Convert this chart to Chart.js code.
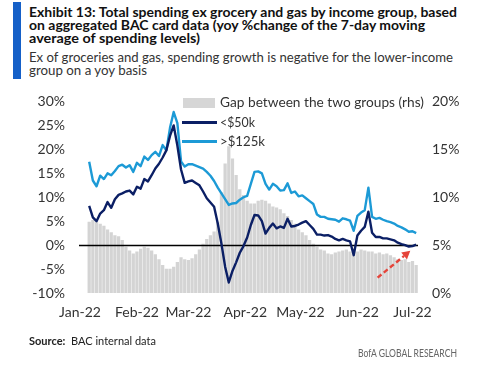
<!DOCTYPE html>
<html>
<head>
<meta charset="utf-8">
<script src="https://cdn.jsdelivr.net/npm/chart.js@4.4.1/dist/chart.umd.min.js"></script>
<style>
  html, body { margin: 0; padding: 0; background: #fff; }
  body { width: 500px; height: 365px; position: relative; overflow: hidden; font-family: Lato, "Open Sans", sans-serif; }
  #c { position: absolute; left: 0; top: 0; }
  .txt { position: absolute; white-space: nowrap; display: inline-block; transform-origin: 0 50%; }
  .title { left: 29px; font-weight: 700; font-size: 13px; line-height: 14px; color: #111; }
  .sub { left: 29px; font-size: 13px; line-height: 14px; color: #333; }
  .leg { left: 220px; font-size: 14px; line-height: 16px; color: #333; }
  .bar { position: absolute; left: 13px; top: 2px; width: 8px; height: 77px; background: #1560C8; }
</style>
</head>
<body>
<div class="bar"></div>
<span class="txt title" style="top:5px" data-w="428">Exhibit 13: Total spending ex grocery and gas by income group, based</span>
<span class="txt title" style="top:18px" data-w="396">on aggregated BAC card data (yoy %change of the 7-day moving</span>
<span class="txt title" style="top:31px" data-w="171">average of spending levels)</span>
<span class="txt sub" style="top:50px" data-w="424">Ex of groceries and gas, spending growth is negative for the lower-income</span>
<span class="txt sub" style="top:63px" data-w="118">group on a yoy basis</span>

<canvas id="c" width="500" height="365"></canvas>

<div style="position:absolute;left:183px;top:98px;width:32px;height:10px;background:#D6D6D6"></div>
<div style="position:absolute;left:182px;top:121px;width:35px;height:3px;background:#0B1F65"></div>
<div style="position:absolute;left:182px;top:140px;width:35px;height:3px;background:#1C9AD6"></div>
<span class="txt leg" style="top:94px" data-w="204">Gap between the two groups (rhs)</span>
<span class="txt leg" style="top:114px" data-w="35">&lt;$50k</span>
<span class="txt leg" style="top:133px" data-w="45">&gt;$125k</span>

<span class="txt" style="left:29px;top:334px;font-size:11px;line-height:13px;color:#222"><b>Source:</b>&nbsp; BAC internal data</span>
<span class="txt" style="left:358px;top:346px;font-size:11px;line-height:13px;color:#666" data-w="99">BofA GLOBAL RESEARCH</span>

<script>
// x positions: day of year 2022 (0 = Jan 1), one observation every 2 days
const startDay = 5;
const stepDays = 2;

// Gap between the two groups (rhs, %)
const gapValues = [
  7.4, 7.6, 7.4, 7.2, 7.0, 6.6, 6.3, 6.0, 5.9, 5.5,
  4.8, 4.4, 4.1, 4.3, 4.6, 4.8, 4.7, 4.4, 4.0, 3.5,
  2.9, 2.5, 2.5, 2.7, 3.2, 3.7, 3.5, 3.4, 3.6, 4.0,
  4.5, 5.1, 5.6, 6.0, 6.4, 7.4, 10.5, 13.5, 15.3, 14.0,
  12.3, 10.8, 10.2, 9.6, 9.3, 9.3, 9.6, 9.7, 9.6, 9.3,
  9.0, 8.9, 8.7, 8.3, 8.0, 7.6, 7.2, 6.6, 6.3, 6.0,
  5.5, 5.1, 4.8, 4.5, 4.4, 4.1, 4.0, 4.2, 4.3, 4.4,
  4.5, 4.3, 4.5, 4.3, 4.5, 4.4, 4.3, 4.3, 4.1, 4.2,
  4.0, 4.1, 3.9, 3.7, 3.5, 3.4, 3.5, 3.2, 3.3, 2.9
];

// <$50k (lhs, %)
const lowIncome = [
  8.2, 5.8, 5.0, 6.6, 7.3, 9.0, 7.8, 9.6, 10.5, 10.8,
  11.2, 11.4, 10.6, 12.2, 11.8, 13.8, 13.3, 14.6, 16.0, 17.0,
  18.3, 19.8, 22.8, 25.0, 20.8, 15.8, 13.0, 13.3, 13.5, 13.0,
  12.5, 11.2, 9.8, 8.9, 8.0, 4.5, 0.3, -4.5, -7.8, -5.4,
  -3.6, -1.6, -0.2, 1.6, 4.2, 6.3, 6.2, 5.0, 2.4, 3.6,
  4.5, 3.5, 3.9, 3.6, 5.5, 3.9, 4.0, 4.3, 4.7, 5.0,
  4.2, 3.4, 2.2, 2.2, 2.0, 2.1, 1.8, 1.3, 1.0, 1.3,
  1.0, 0.8, -2.1, 2.0, 3.0, 3.8, 7.0, 2.6, 1.7, 1.7,
  1.4, 1.4, 1.2, 1.0, 0.5, 0.2, 0.0, -0.3, -0.2, 0.1
];

// >$125k (lhs, %)
const highIncome = [
  17.4, 13.5, 12.3, 14.5, 13.8, 15.0, 14.6, 15.5, 16.5, 16.8,
  16.2, 16.7, 15.3, 17.2, 16.5, 18.5, 17.8, 18.8, 19.5, 18.6,
  20.9, 19.8, 24.5, 27.8, 25.5, 17.5, 16.4, 16.9, 16.9, 16.6,
  16.3, 16.0, 15.3, 14.5, 13.4, 12.0, 10.8, 9.6, 8.4, 8.7,
  8.8, 9.5, 10.0, 10.3, 12.8, 15.3, 15.4, 15.0, 12.8, 11.6,
  12.8, 12.3, 11.4, 11.5, 12.9, 10.9, 11.2, 10.2, 10.4, 9.8,
  9.2, 8.6, 6.4, 5.9, 5.9, 5.5, 5.4, 5.3, 4.9, 5.6,
  5.4, 5.1, 3.0, 6.1, 6.8, 7.3, 12.0, 5.9, 5.5, 5.7,
  5.3, 5.0, 4.8, 4.5, 4.0, 3.7, 3.3, 2.8, 2.9, 2.5
];

// x tick labels at month starts (day of year)
const monthDays = [0, 31, 59, 90, 120, 151, 181];
const monthLabels = ['Jan-22', 'Feb-22', 'Mar-22', 'Apr-22', 'May-22', 'Jun-22', 'Jul-22'];

const leftTicks = { min: -10, max: 30, step: 5 };
const rightTicks = { min: 0, max: 20, step: 5 };

// red dashed arrow annotation (data coordinates: day, lhs %)
const arrowFrom = { x: 162, y: -6.8 };
const arrowTo = { x: 179.8, y: -1.2 };

const xs = gapValues.map((_, i) => startDay + i * stepDays);
const toPts = arr => arr.map((v, i) => ({ x: xs[i], y: v }));

const FONT = 'Lato, "Open Sans", sans-serif';
const TICK_COLOR = '#333';

const zeroLine = {
  id: 'zeroLine',
  afterDatasetDraw(chart, args) {
    if (args.index !== 0) return;
    const { ctx, chartArea, scales } = chart;
    const y = Math.round(scales.y.getPixelForValue(0)) + 0.5;
    ctx.save();
    ctx.strokeStyle = '#000';
    ctx.lineWidth = 1.3;
    ctx.beginPath();
    ctx.moveTo(chartArea.left - 1, y);
    ctx.lineTo(chartArea.right, y);
    ctx.stroke();
    ctx.restore();
  }
};

const arrow = {
  id: 'arrow',
  afterDatasetsDraw(chart) {
    const { ctx, scales } = chart;
    const x1 = scales.x.getPixelForValue(arrowFrom.x), y1 = scales.y.getPixelForValue(arrowFrom.y);
    const x2 = scales.x.getPixelForValue(arrowTo.x), y2 = scales.y.getPixelForValue(arrowTo.y);
    const ang = Math.atan2(y2 - y1, x2 - x1);
    const hl = 8, hw = 4.5;
    const bx = x2 - hl * Math.cos(ang), by = y2 - hl * Math.sin(ang);
    ctx.save();
    ctx.strokeStyle = '#E5443A';
    ctx.fillStyle = '#E5443A';
    ctx.lineWidth = 2.4;
    ctx.setLineDash([5, 3]);
    ctx.beginPath();
    ctx.moveTo(x1, y1);
    ctx.lineTo(bx, by);
    ctx.stroke();
    ctx.setLineDash([]);
    ctx.beginPath();
    ctx.moveTo(x2, y2);
    ctx.lineTo(bx + hw * Math.sin(ang), by - hw * Math.cos(ang));
    ctx.lineTo(bx - hw * Math.sin(ang), by + hw * Math.cos(ang));
    ctx.closePath();
    ctx.fill();
    ctx.restore();
  }
};

new Chart(document.getElementById('c'), {
  type: 'bar',
  data: {
    datasets: [
      {
        type: 'bar', label: 'Gap between the two groups (rhs)', data: toPts(gapValues),
        yAxisID: 'y2', backgroundColor: '#D4D4D4', barThickness: 2.6, order: 3
      },
      {
        type: 'line', label: '>$125k', data: toPts(highIncome), yAxisID: 'y',
        borderColor: '#1C9AD6', borderWidth: 2.4, pointRadius: 0, tension: 0, order: 2,
        borderJoinStyle: 'round'
      },
      {
        type: 'line', label: '<$50k', data: toPts(lowIncome), yAxisID: 'y',
        borderColor: '#0B1F65', borderWidth: 2.4, pointRadius: 0, tension: 0, order: 1,
        borderJoinStyle: 'round'
      }
    ]
  },
  options: {
    responsive: false,
    animation: false,
    devicePixelRatio: 1,
    layout: { padding: { top: 101.5, left: 0, right: 0, bottom: 0 } },
    plugins: { legend: { display: false }, tooltip: { enabled: false } },
    scales: {
      x: {
        type: 'linear', min: 0, max: 184, offset: false,
        afterBuildTicks: s => { s.ticks = monthDays.map(v => ({ value: v })); },
        afterFit: s => { s.height = 72; },
        ticks: {
          autoSkip: false, maxRotation: 0, padding: 11,
          callback: v => monthLabels[monthDays.indexOf(v)],
          font: { family: FONT, size: 14 }, color: TICK_COLOR
        },
        grid: { display: false, drawTicks: false },
        border: { display: false }
      },
      y: {
        position: 'left', min: leftTicks.min, max: leftTicks.max,
        afterFit: s => { s.width = 80; },
        ticks: {
          stepSize: leftTicks.step, padding: 15,
          callback: v => v + '%',
          font: { family: FONT, size: 14 }, color: TICK_COLOR
        },
        grid: { display: false, drawTicks: false },
        border: { display: false }
      },
      y2: {
        position: 'right', min: rightTicks.min, max: rightTicks.max,
        afterFit: s => { s.width = 82; },
        ticks: {
          stepSize: rightTicks.step, padding: 14,
          callback: v => v + '%',
          font: { family: FONT, size: 14 }, color: TICK_COLOR
        },
        grid: { display: false, drawTicks: false },
        border: { display: false }
      }
    }
  },
  plugins: [zeroLine, arrow]
});

function fit() {
  document.querySelectorAll('[data-w]').forEach(el => {
    el.style.transform = 'none';
    const w = el.getBoundingClientRect().width;
    el.style.transform = 'scaleX(' + (parseFloat(el.dataset.w) / w) + ')';
  });
}
fit();
if (document.fonts && document.fonts.ready) document.fonts.ready.then(fit);
</script>
</body>
</html>
